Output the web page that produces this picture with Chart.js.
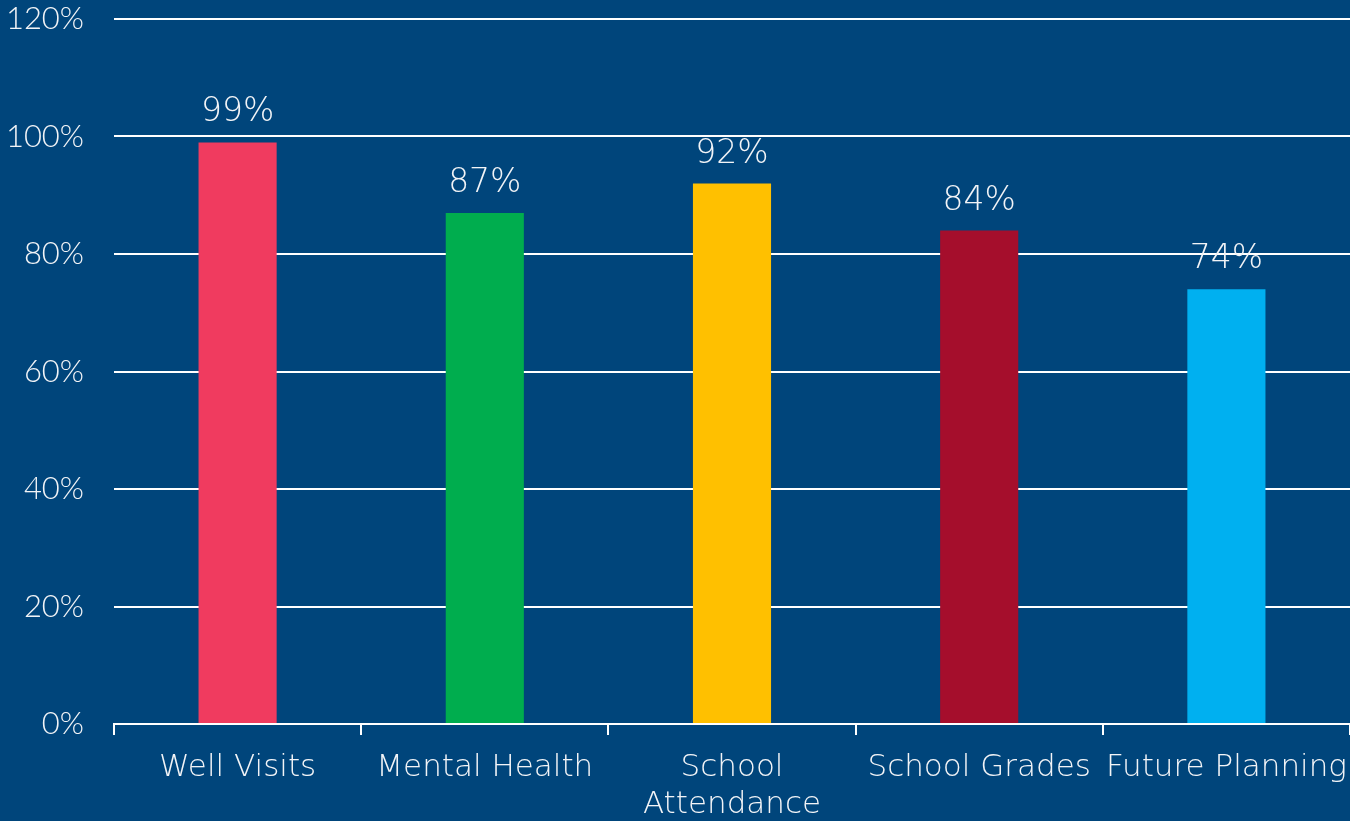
<!DOCTYPE html>
<html>
<head>
<meta charset="utf-8">
<script src="https://cdn.jsdelivr.net/npm/chart.js@4/dist/chart.umd.min.js"></script>
<style>
  html, body { margin: 0; padding: 0; background: #00457b; }
  #wrap { width: 1350px; height: 821px; }
</style>
</head>
<body>
<div id="wrap"><canvas id="barChart" width="1350" height="821"></canvas></div>
<script>
const categories = ["Well Visits", "Mental Health", ["School", "Attendance"], "School Grades", "Future Planning"];
const values = [99, 87, 92, 84, 74];
const barColors = ["#f03b5f", "#00ad4e", "#ffc000", "#a50e2c", "#00b0f0"];
const yTicks = [0, 20, 40, 60, 80, 100, 120];

const FONT = "'DejaVu Sans', Lato, sans-serif";
const NUM_FONT = "Lato, 'DejaVu Sans', sans-serif";
const TEXT = "#f2f4f7";

const valueLabels = {
  id: "valueLabels",
  afterDatasetsDraw(chart) {
    const ctx = chart.ctx;
    const meta = chart.getDatasetMeta(0);
    ctx.save();
    ctx.fillStyle = TEXT;
    ctx.font = "200 33px " + FONT;
    ctx.textAlign = "center";
    ctx.textBaseline = "bottom";
    meta.data.forEach((bar, i) => {
      ctx.fillText(values[i] + "%", bar.x, bar.y - 13);
    });
    ctx.restore();
  }
};

new Chart(document.getElementById("barChart").getContext("2d"), {
  type: "bar",
  data: {
    labels: categories,
    datasets: [{
      data: values,
      backgroundColor: barColors,
      barPercentage: 0.316,
      categoryPercentage: 1,
    }]
  },
  options: {
    responsive: false,
    animation: false,
    layout: { padding: { top: 19, right: 0, left: 0, bottom: 0 } },
    plugins: { legend: { display: false }, tooltip: { enabled: false } },
    scales: {
      x: {
        grid: { display: true, offset: true, drawOnChartArea: false, color: "#ffffff", lineWidth: 2, tickLength: 11 },
        border: { display: true, color: "#ffffff", width: 2 },
        ticks: { color: TEXT, font: { family: FONT, size: 31, weight: 200, lineHeight: 1.2 }, padding: 14, maxRotation: 0, autoSkip: false },
        afterFit(scale) { scale.height = 97; scale.paddingLeft = 0; scale.paddingRight = 0; }
      },
      y: {
        min: 0,
        max: 120,
        afterBuildTicks(scale) { scale.ticks = yTicks.map(v => ({ value: v })); },
        grid: { color: "#ffffff", lineWidth: 2, drawTicks: false },
        border: { display: false },
        ticks: { color: TEXT, font: { family: NUM_FONT, size: 31, weight: 300 }, padding: 30, callback: v => v + "%" },
        afterFit(scale) { scale.width = 114; scale.paddingTop = 0; scale.paddingBottom = 0; }
      }
    }
  },
  plugins: [valueLabels]
});
</script>
</body>
</html>
